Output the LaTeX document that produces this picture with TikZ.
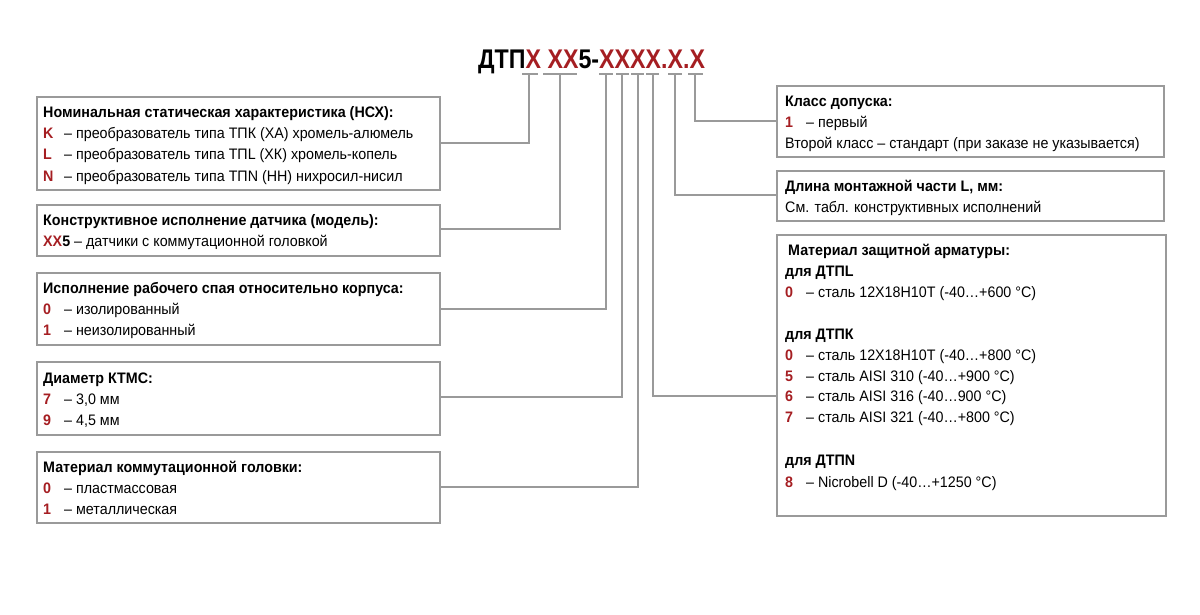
\documentclass[tikz,border=0pt]{standalone}
\usepackage{fontspec}
\setmainfont[FakeStretch=0.94]{Liberation Sans}
\usetikzlibrary{positioning}
\definecolor{keyred}{HTML}{A51E22}
\definecolor{linegray}{HTML}{9A9A9A}
\tikzset{
	box/.style={draw=linegray, line width=1.6pt, anchor=north west},
	lead/.style={draw=linegray, line width=1.6pt},
	txt/.style={anchor=base west, inner sep=0pt, font=\fontsize{15.2}{15}\selectfont},
	head/.style={txt, font=\fontsize{15.2}{15}\selectfont\bfseries}
}
\newcommand{\K}[1]{\textcolor{keyred}{\bfseries #1}}

\begin{document}
\begin{tikzpicture}[x=1pt, y=-1pt]
	\useasboundingbox (0,0) rectangle (1200,614);
	% title
	\node[anchor=base west, inner sep=0pt, font=\fontsize{27}{27}\selectfont\bfseries\addfontfeatures{FakeStretch=0.86}] (title) at (478,68)
		{ДТП\textcolor{keyred}{X XX}5-\textcolor{keyred}{XXXX.X.X}};
	\foreach \a/\b in {522/538, 543/577, 599/613, 616/629, 631/644, 646/659, 668/682, 688/703}
		\draw[lead] (\a,74) -- (\b,74);
	% boxes, left
	\draw[box] (37,97) rectangle (440,190);
	\draw[box] (37,205) rectangle (440,256);
	\draw[box] (37,273) rectangle (440,345);
	\draw[box] (37,362) rectangle (440,435);
	\draw[box] (37,452) rectangle (440,523);
	% boxes, right
	\draw[box] (777,86) rectangle (1164,157);
	\draw[box] (777,171) rectangle (1164,221);
	\draw[box] (777,235) rectangle (1166,516);
	% leads
	\draw[lead] (529,74) |- (440,143);
	\draw[lead] (560,74) |- (440,229);
	\draw[lead] (606,74) |- (440,309);
	\draw[lead] (622,74) |- (440,397);
	\draw[lead] (638,74) |- (440,487);
	\draw[lead] (653,74) |- (777,396);
	\draw[lead] (675,74) |- (777,195);
	\draw[lead] (695,74) |- (777,121);
	% text, left
	\node[head] (nsx) at (43,117) {Номинальная статическая характеристика (НСХ):};
	\node[txt] (nsxk) at (43,138) {\K{K}};
	\node[txt] at (64,138) {– преобразователь типа ТПК (ХА) хромель-алюмель};
	\node[txt] (nsxl) at (43,159) {\K{L}};
	\node[txt] at (64,159) {– преобразователь типа ТПL (ХК) хромель-копель};
	\node[txt] (nsxn) at (43,181) {\K{N}};
	\node[txt] at (64,181) {– преобразователь типа ТПN (НН) нихросил-нисил};
	\node[head] (model) at (43,225) {Конструктивное исполнение датчика (модель):};
	\node[txt] at (43,246) {\K{XX}\textbf{5} – датчики с коммутационной головкой};
	\node[head] (spai) at (43,293) {Исполнение рабочего спая относительно корпуса:};
	\node[txt] at (43,314) {\K{0}};
	\node[txt] at (64,314) {– изолированный};
	\node[txt] at (43,335) {\K{1}};
	\node[txt] at (64,335) {– неизолированный};
	\node[head] (ktms) at (43,383) {Диаметр КТМС:};
	\node[txt] at (43,404) {\K{7}};
	\node[txt] at (64,404) {– 3,0 мм};
	\node[txt] at (43,425) {\K{9}};
	\node[txt] at (64,425) {– 4,5 мм};
	\node[head] (head) at (43,472) {Материал коммутационной головки:};
	\node[txt] at (43,493) {\K{0}};
	\node[txt] at (64,493) {– пластмассовая};
	\node[txt] at (43,514) {\K{1}};
	\node[txt] at (64,514) {– металлическая};
	% text, right
	\node[head] (klass) at (785,106) {Класс допуска:};
	\node[txt] at (785,127) {\K{1}};
	\node[txt] at (806,127) {– первый};
	\node[txt] at (785,148) {Второй класс – стандарт (при заказе не указывается)};
	\node[head] (dlina) at (785,191) {Длина монтажной части L, мм:};
	\node[txt] at (785,212) {См. табл. конструктивных исполнений};
	\node[head] (mat) at (788,255) {Материал защитной арматуры:};
	\node[head] at (785,276) {для ДТПL};
	\node[txt] at (785,297) {\K{0}};
	\node[txt] at (806,297) {– сталь 12Х18Н10Т (-40…+600 °C)};
	\node[head] at (785,339) {для ДТПК};
	\node[txt] at (785,360) {\K{0}};
	\node[txt] at (806,360) {– сталь 12Х18Н10Т (-40…+800 °C)};
	\node[txt] at (785,381) {\K{5}};
	\node[txt] at (806,381) {– сталь AISI 310 (-40…+900 °C)};
	\node[txt] at (785,401) {\K{6}};
	\node[txt] at (806,401) {– сталь AISI 316 (-40…900 °C)};
	\node[txt] at (785,422) {\K{7}};
	\node[txt] at (806,422) {– сталь AISI 321 (-40…+800 °C)};
	\node[head] at (785,465) {для ДТПN};
	\node[txt] at (785,487) {\K{8}};
	\node[txt] at (806,487) {– Nicrobell D (-40…+1250 °C)};
\end{tikzpicture}
\end{document}
